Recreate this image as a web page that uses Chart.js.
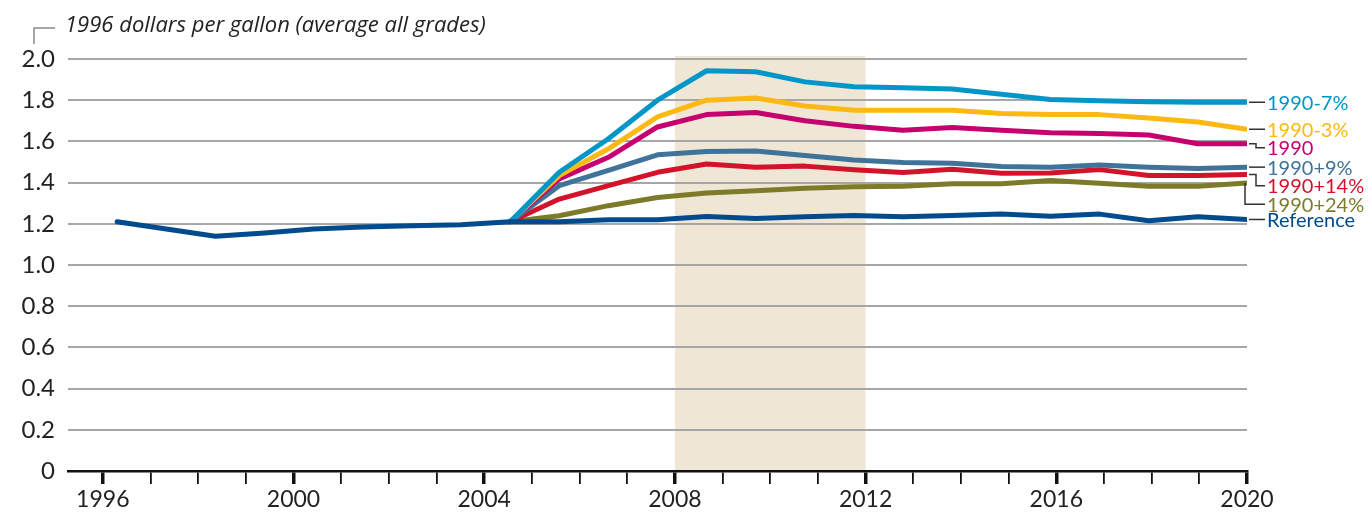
<!DOCTYPE html>
<html>
<head>
<meta charset="utf-8">
<script src="https://cdn.jsdelivr.net/npm/chart.js@4/dist/chart.umd.min.js"></script>
<style>
  body { margin: 0; background: #fff; }
  #wrap { width: 1372px; height: 515px; position: relative; }
</style>
</head>
<body>
<div id="wrap"><canvas id="chart"></canvas></div>
<script>
// data years (plotted on the hidden data axis)
const years = [1997,1998,1999,2000,2001,2002,2003,2004,2005,2006,2007,2008,2009,2010,2011,2012,2013,2014,2015,2016,2017,2018,2019,2020];
const scenarioYears = years.slice(8); // 2005..2020

const reference = [1.21,1.175,1.14,1.155,1.175,1.185,1.19,1.195,1.21,1.21,1.22,1.22,1.236,1.226,1.234,1.24,1.234,1.24,1.247,1.237,1.247,1.215,1.234,1.221];
const minus7 = [1.21,1.45,1.613,1.80,1.943,1.938,1.889,1.865,1.86,1.854,1.829,1.803,1.797,1.792,1.79,1.79];
const minus3 = [1.21,1.434,1.564,1.719,1.80,1.811,1.772,1.751,1.751,1.751,1.735,1.73,1.73,1.714,1.694,1.659];
const level1990 = [1.21,1.418,1.523,1.67,1.73,1.74,1.70,1.673,1.654,1.667,1.654,1.642,1.638,1.631,1.589,1.589];
const plus9 = [1.21,1.385,1.459,1.535,1.551,1.553,1.532,1.51,1.498,1.494,1.478,1.475,1.486,1.475,1.468,1.475];
const plus14 = [1.21,1.32,1.385,1.45,1.49,1.475,1.48,1.462,1.449,1.465,1.445,1.447,1.463,1.434,1.434,1.439];
const plus24 = [1.21,1.239,1.288,1.328,1.35,1.36,1.372,1.38,1.382,1.394,1.394,1.41,1.397,1.382,1.382,1.398];

const seriesNames = ['Reference','1990-7%','1990-3%','1990','1990+9%','1990+14%','1990+24%'];
const seriesColors = ['#004b8d','#0096c8','#fdb913','#c6006e','#3f7399','#d2132a','#7d7a2a'];

const yearTicks = [1996,1997,1998,1999,2000,2001,2002,2003,2004,2005,2006,2007,2008,2009,2010,2011,2012,2013,2014,2015,2016,2017,2018,2019,2020];
const yTicks = [0,0.2,0.4,0.6,0.8,1.0,1.2,1.4,1.6,1.8,2.0];
const shadeYears = [2008, 2012];
const title = '1996 dollars per gallon (average all grades)';

const FONT = 'Lato, "Open Sans", sans-serif';

function pts(xs, ys) { return ys.map((v, i) => ({ x: xs[i], y: v })); }

const allData = [
  pts(years, reference),
  pts(scenarioYears, minus7),
  pts(scenarioYears, minus3),
  pts(scenarioYears, level1990),
  pts(scenarioYears, plus9),
  pts(scenarioYears, plus14),
  pts(scenarioYears, plus24)
];

const datasets = allData.map((d, i) => ({
  label: seriesNames[i],
  data: d,
  xAxisID: 'xd',
  borderColor: seriesColors[i],
  borderWidth: 5,
  borderCapStyle: 'round',
  borderJoinStyle: 'round',
  pointRadius: 0,
  tension: 0,
  fill: false
}));

// shaded period behind the grid
const shadePlugin = {
  id: 'shade',
  beforeDraw(chart) {
    const { ctx, scales } = chart;
    const x0 = scales.x.getPixelForValue(shadeYears[0]);
    const x1 = scales.x.getPixelForValue(shadeYears[1]);
    const top = scales.y.getPixelForValue(2.0) - 3;
    const bottom = scales.y.getPixelForValue(0);
    ctx.save();
    ctx.fillStyle = '#f0e6d6';
    ctx.fillRect(x0, top, x1 - x0, bottom - top);
    ctx.restore();
  }
};

// title with bracket
const titlePlugin = {
  id: 'unitTitle',
  afterDraw(chart) {
    const { ctx } = chart;
    ctx.save();
    ctx.strokeStyle = '#8a8a8a';
    ctx.lineWidth = 1.5;
    ctx.beginPath();
    ctx.moveTo(34, 44);
    ctx.lineTo(34, 28);
    ctx.lineTo(55, 28);
    ctx.stroke();
    ctx.fillStyle = '#222';
    ctx.font = 'italic 22px "Open Sans", Lato, sans-serif';
    ctx.textBaseline = 'middle';
    ctx.fillText(title, 65, 26);
    ctx.restore();
  }
};

// end labels with leader lines
const endLabelPlugin = {
  id: 'endLabels',
  afterDatasetsDraw(chart) {
    const { ctx, scales } = chart;
    const items = chart.data.datasets.map((ds, i) => {
      const last = ds.data[ds.data.length - 1];
      return { i, x: scales.xd.getPixelForValue(last.x), y: scales.y.getPixelForValue(last.y) };
    }).sort((a, b) => a.y - b.y);
    let prev = -Infinity;
    items.forEach(it => {
      it.ly = Math.max(it.y, prev + 18.5);
      if (it.ly - it.y < 4) it.ly = it.y;
      prev = it.ly;
    });
    ctx.save();
    ctx.font = '20px ' + FONT;
    ctx.textBaseline = 'middle';
    items.forEach(it => {
      const tx = it.x + 20;
      ctx.strokeStyle = '#333';
      ctx.lineWidth = 1.5;
      ctx.beginPath();
      const off = it.ly - it.y;
      if (off === 0) {
        ctx.moveTo(it.x + 2, it.y);
        ctx.lineTo(tx - 2, it.y);
      } else {
        const ex = off > 15 ? it.x - 2 : it.x + 9;
        ctx.moveTo(Math.min(ex, it.x + 2), it.y);
        ctx.lineTo(ex, it.y);
        ctx.lineTo(ex, it.ly);
        ctx.lineTo(tx - 2, it.ly);
      }
      ctx.stroke();
      ctx.fillStyle = seriesColors[it.i];
      ctx.fillText(seriesNames[it.i], tx, it.ly + 1);
    });
    ctx.restore();
  }
};

new Chart(document.getElementById('chart'), {
  type: 'line',
  data: { datasets },
  plugins: [shadePlugin, titlePlugin, endLabelPlugin],
  options: {
    responsive: true,
    maintainAspectRatio: false,
    animation: false,
    layout: { padding: { top: 59, right: 125, left: 0, bottom: 0 } },
    plugins: { legend: { display: false }, tooltip: { enabled: false } },
    scales: {
      x: {
        type: 'linear',
        position: 'bottom',
        min: 1995.27,
        max: 2020,
        afterBuildTicks: s => { s.ticks = yearTicks.map(v => ({ value: v })); },
        afterFit: s => { s.height = 44; },
        ticks: {
          autoSkip: false,
          maxRotation: 0,
          padding: 2,
          color: '#222',
          font: { family: FONT, size: 23 },
          callback: v => (v % 4 === 0 ? String(v) : '')
        },
        grid: {
          display: true,
          drawOnChartArea: false,
          drawTicks: true,
          tickLength: 13,
          tickColor: '#111',
          tickWidth: c => (c.tick && c.tick.value % 4 === 0 ? 3.5 : 1.8),
          lineWidth: c => (c.tick && c.tick.value % 4 === 0 ? 3.5 : 1.8),
          color: '#111'
        },
        border: { display: true, color: '#111', width: 2.5 }
      },
      xd: {
        type: 'linear',
        min: 1996,
        max: 2020,
        display: false
      },
      y: {
        min: 0,
        max: 2.0,
        afterBuildTicks: s => { s.ticks = yTicks.map(v => ({ value: v })); },
        afterFit: s => { s.width = 68; },
        ticks: {
          padding: 13,
          color: '#222',
          font: { family: FONT, size: 24 },
          callback: v => (v === 0 ? '0' : v.toFixed(1))
        },
        grid: {
          drawTicks: false,
          color: c => (c.tick && c.tick.value === 0 ? 'rgba(0,0,0,0)' : '#a6a6a6'),
          lineWidth: 2
        },
        border: { display: false }
      }
    }
  }
});
</script>
</body>
</html>
